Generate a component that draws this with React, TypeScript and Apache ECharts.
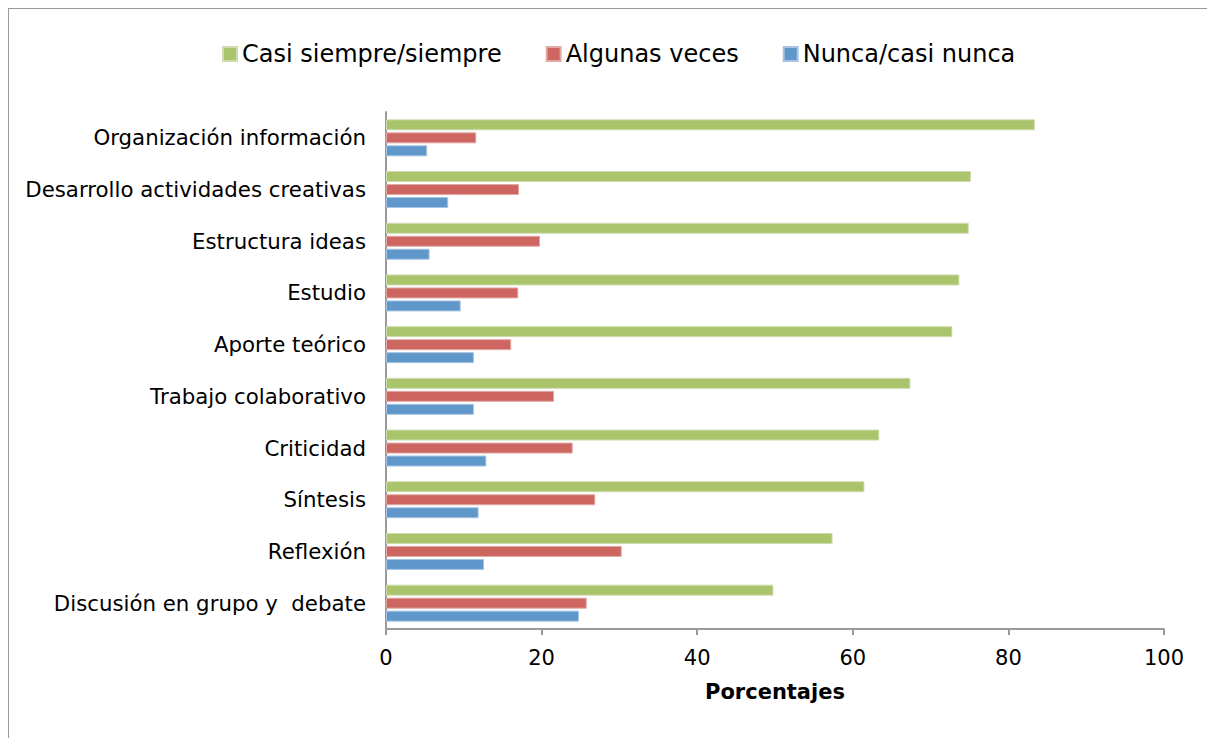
import React, { useEffect, useRef } from "react";
import * as echarts from "echarts";

const categories = [
  "Organización información",
  "Desarrollo actividades creativas",
  "Estructura ideas",
  "Estudio",
  "Aporte teórico",
  "Trabajo colaborativo",
  "Criticidad",
  "Síntesis",
  "Reflexión",
  "Discusión en grupo y  debate",
];
const seriesNames = ["Casi siempre/siempre", "Algunas veces", "Nunca/casi nunca"];
const casiSiempre = [83.4, 75.2, 74.9, 73.7, 72.8, 67.4, 63.4, 61.5, 57.4, 49.8];
const algunasVeces = [11.6, 17.1, 19.8, 17.0, 16.1, 21.6, 24.0, 26.9, 30.3, 25.8];
const nunca = [5.3, 8.0, 5.6, 9.6, 11.3, 11.3, 12.9, 11.9, 12.6, 24.8];
const xTicks = [0, 20, 40, 60, 80, 100];
const axisTitle = "Porcentajes";

const colors = ["#a9c46b", "#cd6660", "#6097cb"];
const borders = ["#cfdcb0", "#e0a9a5", "#a9c4e2"];
const FONT = "DejaVu Sans, Verdana, sans-serif";

export default function App() {
  const ref = useRef<HTMLDivElement>(null);
  useEffect(() => {
    if (!ref.current) return;
    const chart = echarts.init(ref.current, undefined, { renderer: "svg" });
    const values = [casiSiempre, algunasVeces, nunca];
    chart.setOption({
      animation: false,
      textStyle: { fontFamily: FONT },
      legend: {
        top: 28,
        left: 208,
        itemWidth: 14,
        itemHeight: 14,
        itemGap: 44,
        icon: "rect",
        textStyle: { fontFamily: FONT, fontSize: 24, color: "#000" },
        data: seriesNames,
      },
      grid: { left: 377, right: 50, top: 103, bottom: 109, containLabel: false },
      xAxis: {
        type: "value",
        min: xTicks[0],
        max: xTicks[xTicks.length - 1],
        interval: 20,
        name: axisTitle,
        nameLocation: "middle",
        nameGap: 52,
        nameTextStyle: { fontFamily: FONT, fontSize: 21, fontWeight: "bold", color: "#000" },
        axisLine: { show: true, lineStyle: { color: "#9a9a9a", width: 2 } },
        axisTick: { show: true, length: 6, lineStyle: { color: "#9a9a9a", width: 2 } },
        axisLabel: { fontFamily: FONT, fontSize: 21, color: "#000", margin: 18 },
        splitLine: { show: false },
      },
      yAxis: {
        type: "category",
        inverse: true,
        data: categories,
        axisLine: { show: true, lineStyle: { color: "#9a9a9a", width: 2 } },
        axisTick: { show: false },
        axisLabel: { fontFamily: FONT, fontSize: 21.3, color: "#000", margin: 20 },
        splitLine: { show: false },
      },
      series: seriesNames.map((name, i) => ({
        name,
        type: "bar",
        data: values[i],
        barWidth: 11,
        barGap: "18%",
        itemStyle: { color: colors[i], borderColor: borders[i], borderWidth: 1 },
      })),
    });
    return () => chart.dispose();
  }, []);
  return (
    <div
      style={{
        width: 1205,
        height: 729,
        border: "1px solid #9a9a9a",
        borderBottom: "none",
        background: "#fff",
      }}
    >
      <div ref={ref} style={{ width: 1205, height: 729 }} />
    </div>
  );
}
